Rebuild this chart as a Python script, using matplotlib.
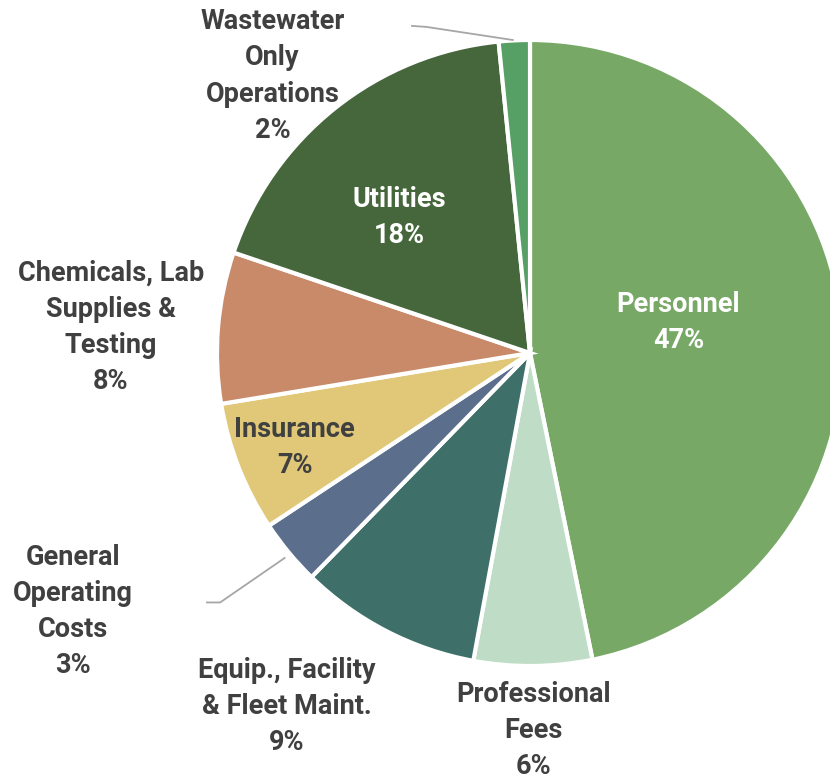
import matplotlib
matplotlib.use('Agg')
import matplotlib.pyplot as plt

plt.rcParams['font.family'] = ['Roboto', 'DejaVu Sans']

# 数据
categories = ['Personnel', 'Professional\nFees', 'Equip., Facility\n& Fleet Maint.',
              'General\nOperating\nCosts', 'Insurance', 'Chemicals, Lab\nSupplies &\nTesting',
              'Utilities', 'Wastewater\nOnly\nOperations']
values = [46.8, 6.1, 9.4, 3.4, 6.7, 7.8, 18.2, 1.6]
colors = ['#78A866', '#BFDDC6', '#3E7069', '#5B6E8C', '#E0C878', '#C98A6A', '#46673C', '#56A066']

# 标签位置（半径=1的坐标）
label_xy = [(0.474, 0.097), (0.010, -1.205), (-0.777, -1.128), (-1.461, -0.826),
            (-0.752, -0.303), (-1.339, 0.081), (-0.419, 0.432), (-0.823, 0.885)]
label_col = ['white', '#404040', '#404040', '#404040', '#404040', '#404040', 'white', '#404040']

W, H = 830, 779
cx, cy, R = 530, 353, 313
fig = plt.figure(figsize=(W/100, H/100), dpi=100)
ax = fig.add_axes([(cx-R)/W, (H-cy-R)/H, 2*R/W, 2*R/H])
ax.pie(values, colors=colors, startangle=90, counterclock=False, radius=1,
       wedgeprops=dict(edgecolor='white', linewidth=3))
ax.set_xlim(-1, 1)
ax.set_ylim(-1, 1)
ax.set_aspect('equal')
ax.axis('off')

total = sum(values)
for name, v, (x, y), c in zip(categories, values, label_xy, label_col):
    ax.text(x, y, '%s\n%d%%' % (name, round(v/total*100)), ha='center', va='center',
            fontsize=19.5, fontweight='bold', color=c, linespacing=1.43, clip_on=False)

# 引线
ax.plot([-0.377, -0.332, -0.055], [1.045, 1.042, 1.0], color='#A6A6A6', lw=1.3, clip_on=False)
ax.plot([-1.032, -0.990, -0.784], [-0.797, -0.797, -0.655], color='#A6A6A6', lw=1.3, clip_on=False)

plt.savefig('out.png', dpi=100)
